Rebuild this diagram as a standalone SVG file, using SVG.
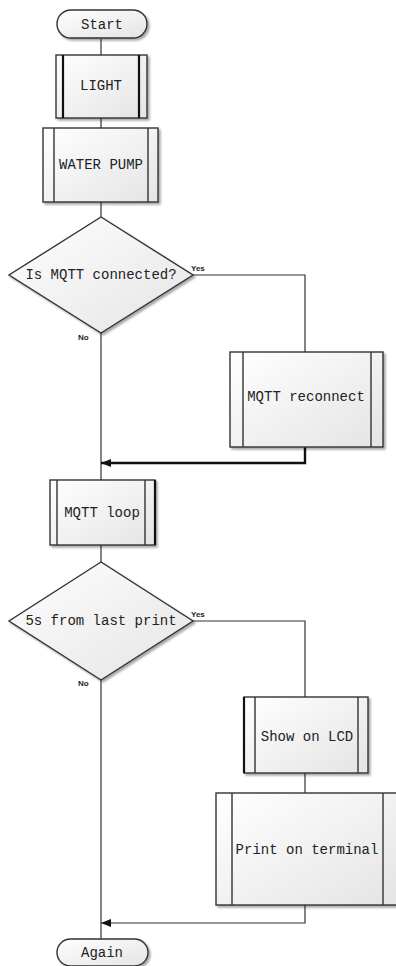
<svg xmlns="http://www.w3.org/2000/svg" width="396" height="966" viewBox="0 0 396 966">
  <defs>
    <linearGradient id="fill" x1="0" y1="0" x2="1" y2="1">
      <stop offset="0" stop-color="#ffffff"/>
      <stop offset="1" stop-color="#e4e4e4"/>
    </linearGradient>
    <filter id="shadow" x="-10%" y="-10%" width="130%" height="130%">
      <feGaussianBlur in="SourceAlpha" stdDeviation="1.2"/>
      <feOffset dx="2" dy="2" result="b"/>
      <feComponentTransfer><feFuncA type="linear" slope="0.35"/></feComponentTransfer>
      <feMerge><feMergeNode/><feMergeNode in="SourceGraphic"/></feMerge>
    </filter>
    <marker id="arrow" viewBox="0 0 10 10" refX="10" refY="5" markerWidth="10" markerHeight="10" markerUnits="userSpaceOnUse" orient="auto">
      <path d="M0,1 L10,5 L0,9 Z" fill="#111"/>
    </marker>
  </defs>
  <style>
    .shape { fill: url(#fill); stroke: #333; stroke-width: 1.4; filter: url(#shadow); }
    .bar { stroke: #333; stroke-width: 1.4; fill: none; }
    .bar.heavy { stroke-width: 2.2; stroke: #111; }
    .line { stroke: #333; stroke-width: 1.2; fill: none; }
    .line.heavy { stroke-width: 2.4; stroke: #111; }
    .label { font-family: "Liberation Mono", "DejaVu Sans Mono", monospace; font-size: 14px; fill: #222; text-anchor: middle; dominant-baseline: central; }
    .small { font-family: "Liberation Sans", "DejaVu Sans", sans-serif; font-size: 8px; font-weight: bold; fill: #222; }
  </style>

  <g id="connectors">
    <path class="line" d="M101,39 V55"/>
    <path class="line" d="M101,118 V128"/>
    <path class="line" d="M101,202 V217"/>
    <path class="line" d="M193,275 H305 V352"/>
    <path class="line" d="M101,333 V480"/>
    <path class="line heavy" d="M305,447 V463 H101" marker-end="url(#arrow)"/>
    <path class="line" d="M101,545 V562"/>
    <path class="line" d="M193,621 H305 V697"/>
    <path class="line" d="M305,773 V793"/>
    <path class="line" d="M305,905 V923 H101" marker-end="url(#arrow)"/>
    <path class="line" d="M101,680 V939"/>
    <text class="small" x="191" y="271">Yes</text>
    <text class="small" x="78" y="340">No</text>
    <text class="small" x="191" y="617">Yes</text>
    <text class="small" x="78" y="686">No</text>
  </g>

  <g id="start">
    <rect class="shape" x="57" y="10" width="90" height="28" rx="14"/>
    <text class="label" x="102" y="25">Start</text>
  </g>

  <g id="light">
    <rect class="shape" x="56" y="55" width="91" height="63"/>
    <path class="bar heavy" d="M63,55 V118 M139,55 V118"/>
    <text class="label" x="101" y="86">LIGHT</text>
  </g>

  <g id="water-pump">
    <rect class="shape" x="43" y="128" width="115" height="74"/>
    <path class="bar" d="M54,128 V202 M148,128 V202"/>
    <text class="label" x="101" y="165">WATER PUMP</text>
  </g>

  <g id="mqtt-connected">
    <polygon class="shape" points="101,217 193,275 101,333 9,275"/>
    <text class="label" x="101" y="275">Is MQTT connected?</text>
  </g>

  <g id="mqtt-reconnect">
    <rect class="shape" x="230" y="352" width="153" height="95"/>
    <path class="bar" d="M243,352 V447 M371,352 V447"/>
    <text class="label" x="306" y="397">MQTT reconnect</text>
  </g>

  <g id="mqtt-loop">
    <rect class="shape" x="50" y="480" width="105" height="65"/>
    <path class="bar" d="M57,480 V545 M145,480 V545"/>
    <path class="bar heavy" d="M155,480 V545"/>
    <text class="label" x="102" y="513">MQTT loop</text>
  </g>

  <g id="last-print">
    <polygon class="shape" points="101,562 193,621 101,680 9,621"/>
    <text class="label" x="101" y="621">5s from last print</text>
  </g>

  <g id="show-lcd">
    <rect class="shape" x="244" y="697" width="124" height="76"/>
    <path class="bar" d="M255,697 V773 M358,697 V773"/>
    <path class="bar heavy" d="M244,697 V773"/>
    <text class="label" x="307" y="737">Show on LCD</text>
  </g>

  <g id="print-terminal">
    <rect class="shape" x="216" y="793" width="184" height="112"/>
    <path class="bar" d="M232,793 V905 M383,793 V905"/>
    <text class="label" x="307" y="850">Print on terminal</text>
  </g>

  <g id="again">
    <rect class="shape" x="57" y="939" width="91" height="27" rx="13.5"/>
    <text class="label" x="102" y="953">Again</text>
  </g>
</svg>
